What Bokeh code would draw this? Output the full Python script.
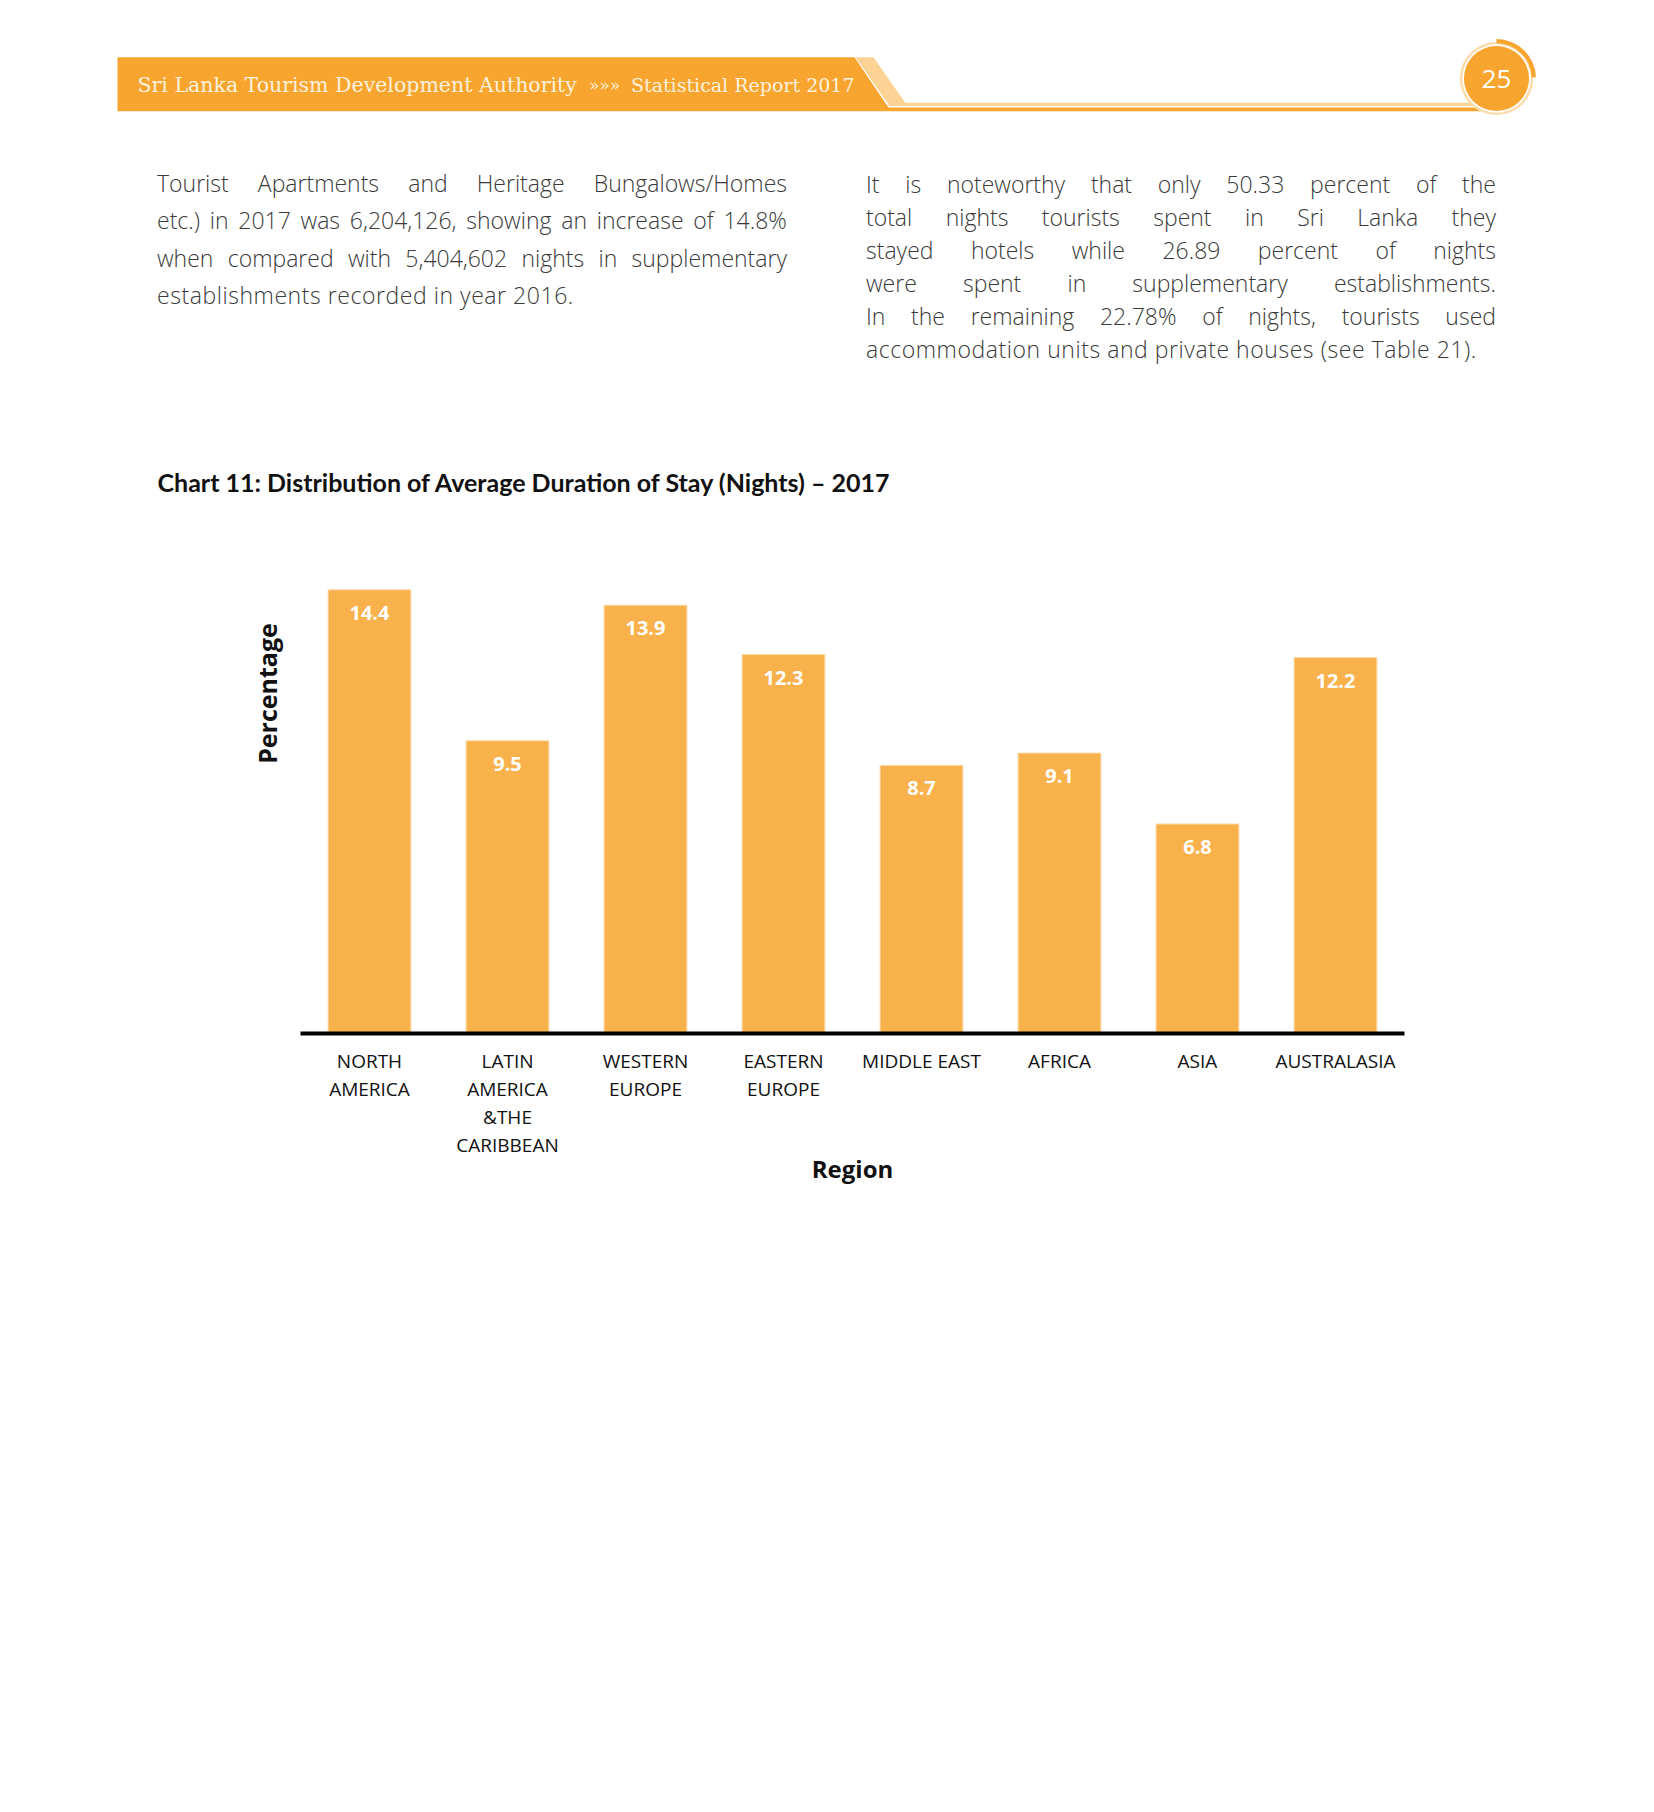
import html
from math import pi

from bokeh.plotting import figure
from bokeh.models import FactorRange, Range1d, Label, Div, Spacer
from bokeh.layouts import column, row
from bokeh.core.properties import value
from bokeh.embed import file_html
from bokeh.resources import INLINE

# ---------------- data ----------------
regions = [
    "NORTH\nAMERICA",
    "LATIN\nAMERICA\n&THE\nCARIBBEAN",
    "WESTERN\nEUROPE",
    "EASTERN\nEUROPE",
    "MIDDLE EAST",
    "AFRICA",
    "ASIA",
    "AUSTRALASIA",
]
stay_values = [14.4, 9.5, 13.9, 12.3, 8.7, 9.1, 6.8, 12.2]
value_labels = [f"{v:.1f}" for v in stay_values]

chart_title = "Chart 11: Distribution of Average Duration of Stay (Nights) \u2013 2017"
x_title = "Region"
y_title = "Percentage"

header_left = "Sri Lanka Tourism Development Authority"
header_sep = "\u00bb\u00bb\u00bb"
header_right = "Statistical Report 2017"
page_number = "25"

left_lines = [
    "Tourist Apartments and Heritage Bungalows/Homes",
    "etc.) in 2017 was 6,204,126, showing an increase of 14.8%",
    "when compared with 5,404,602 nights in supplementary",
    "establishments recorded in year 2016.",
]
right_lines = [
    "It is noteworthy that only 50.33 percent of the",
    "total nights tourists spent in Sri Lanka they",
    "stayed hotels while 26.89 percent of nights",
    "were spent in supplementary establishments.",
    "In the remaining 22.78% of nights, tourists used",
    "accommodation units and private houses (see Table 21).",
]

# ---------------- style ----------------
W = 1654
XOFF = 50                 # page content starts right of this spacer
FW = W - XOFF
ORANGE = "#F8A530"
PEACH = "#FCD395"
BAR = "#F9B14C"
BAR_EDGE = "#FCD8A6"
TEXT_GREY = "#3a3a3a"
HEAD_TEXT = "#FFF1DC"

# ---------------- header ----------------
H = 140


def sy(v):
    return H - v


hf = figure(width=FW, height=H, x_range=Range1d(XOFF, W), y_range=Range1d(0, H),
            x_axis_location=None, y_axis_location=None, toolbar_location=None,
            output_backend="svg", min_border=0, outline_line_color=None)
hf.grid.visible = False

hf.patch(x=[117, 854, 888, 1480, 1480, 117],
         y=[sy(v) for v in [56.7, 56.7, 107, 107, 110.7, 110.7]],
         fill_color=ORANGE, line_color=None)
hf.patch(x=[855, 873, 907, 889],
         y=[sy(v) for v in [56.7, 56.7, 105.5, 105.5]],
         fill_color=PEACH, line_color=None)
hf.patch(x=[889, 1480, 1480, 889],
         y=[sy(v) for v in [102.3, 102.3, 105.5, 105.5]],
         fill_color=PEACH, line_color=None)

hf.text(x=[137], y=[sy(84)], text=[header_left], text_font=value("DejaVu Serif"),
        text_font_size="20.5px", text_color=HEAD_TEXT, text_align="left",
        text_baseline="middle")
hf.text(x=[604], y=[sy(84)], text=[header_sep], text_font=value("DejaVu Serif"),
        text_font_size="17px", text_color=HEAD_TEXT, text_align="center",
        text_baseline="middle")
hf.text(x=[854], y=[sy(84)], text=[header_right], text_font=value("DejaVu Serif"),
        text_font_size="19px", text_color=HEAD_TEXT, text_align="right",
        text_baseline="middle")

cx, cy = 1496, sy(78)
hf.circle(x=[cx], y=[cy], radius=36.7, fill_color="#FDDCAE", line_color=None)
hf.circle(x=[cx], y=[cy], radius=34.2, fill_color="white", line_color=None)
hf.circle(x=[cx], y=[cy], radius=32.6, fill_color=ORANGE, line_color=None)
hf.annular_wedge(x=[cx], y=[cy], inner_radius=35.3, outer_radius=39.5,
                 start_angle=0.03, end_angle=pi / 2, fill_color=ORANGE, line_color=None)
hf.text(x=[cx], y=[cy], text=[page_number], text_font=value("Open Sans"),
        text_font_size="26px", text_color="white", text_align="center",
        text_baseline="middle")

# ---------------- paragraphs ----------------
ROW_H = 260


def para_html(lines, lh, pad):
    rows = []
    base = f"height:{lh}px;line-height:{lh}px;white-space:nowrap;"
    for i, ln in enumerate(lines):
        if i < len(lines) - 1:
            spans = "".join(f"<span>{html.escape(w)}</span>" for w in ln.split(" "))
            rows.append(f'<div style="{base}display:flex;justify-content:space-between;">{spans}</div>')
        else:
            rows.append(f'<div style="{base}letter-spacing:0.55px;">{html.escape(ln)}</div>')
    return (f'<div style="font-family:\'Open Sans\';font-weight:300;font-size:23px;'
            f'color:{TEXT_GREY};padding-top:{pad}px;width:630px;">' + "".join(rows) + "</div>")


left_div = Div(text=para_html(left_lines, 37.4, 25), width=630, height=ROW_H, margin=0)
right_div = Div(text=para_html(right_lines, 33.0, 27.5), width=630, height=ROW_H, margin=0)
text_row = row(Spacer(width=157, height=ROW_H, margin=0), left_div,
               Spacer(width=79, height=ROW_H, margin=0), right_div,
               Spacer(width=158, height=ROW_H, margin=0))

# ---------------- chart ----------------
CH = 850                   # chart canvas: page y 400 .. 1250
CHART_TOP = 400
BASE_Y = 1033              # page y of the baseline
AX_LEFT, AX_RIGHT = 300, 1404
band = (AX_RIGHT - AX_LEFT) / len(regions)
frame_h = BASE_Y - CHART_TOP
ppu = 30.8125              # pixels per unit
Y_MAX = frame_h / ppu
pad = (AX_LEFT - XOFF) / band

cf = figure(x_range=FactorRange(*regions, range_padding=pad, range_padding_units="absolute"),
            y_range=Range1d(0, Y_MAX), width=FW, height=CH,
            toolbar_location=None, output_backend="svg", y_axis_location=None,
            min_border_left=0, min_border_right=0, min_border_top=0,
            min_border_bottom=CH - frame_h, outline_line_color=None)
cf.grid.visible = False

cf.vbar(x=regions, top=stay_values, width=0.6, fill_color=BAR, line_color=BAR_EDGE,
        line_width=1)
cf.text(x=regions, y=stay_values, text=value_labels, text_align="center",
        text_baseline="middle", y_offset=23, text_color="white",
        text_font=value("Open Sans"), text_font_style="bold", text_font_size="20px")

ax = cf.xaxis[0]
ax.bounds = (0, len(regions))
ax.axis_line_width = 4
ax.axis_line_color = "black"
ax.major_tick_line_color = None
ax.minor_tick_line_color = None
ax.major_tick_out = 0
ax.major_tick_in = 0
ax.major_label_standoff = 14
ax.major_label_text_font = "Open Sans"
ax.major_label_text_font_size = "19px"
ax.major_label_text_color = "#111111"
ax.major_label_text_line_height = 1.08
ax.major_label_orientation = "horizontal"
ax.axis_label = x_title
ax.axis_label_text_font = "Open Sans"
ax.axis_label_text_font_style = "bold"
ax.axis_label_text_font_size = "24px"
ax.axis_label_text_color = "#111111"
ax.axis_label_standoff = -9

cf.add_layout(Label(x=(266 - AX_LEFT) / band, y=(BASE_Y - 693) / ppu, text=y_title,
                    angle=pi / 2, text_align="center", text_baseline="middle",
                    text_font="Open Sans", text_font_style="bold", text_font_size="25px",
                    text_color="#111111"))
cf.add_layout(Label(x=(157 - AX_LEFT) / band, y=(BASE_Y - 481) / ppu, text=chart_title,
                    text_align="left", text_baseline="middle", text_font="Lato",
                    text_font_style="bold", text_font_size="25px", text_color="#111111"))

layout = column(row(Spacer(width=XOFF, height=H, margin=0), hf),
                text_row,
                row(Spacer(width=XOFF, height=CH, margin=0), cf))
open("out.html", "w").write(file_html(layout, INLINE))
